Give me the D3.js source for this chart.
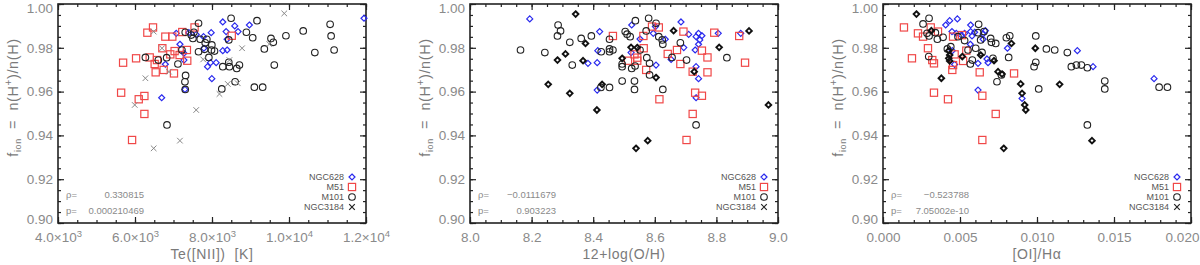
<!DOCTYPE html>
<html><head><meta charset="utf-8">
<script src="https://cdn.jsdelivr.net/npm/d3@7"></script>
<style>
body{margin:0;background:#fff}
text{font-family:"Liberation Sans",Arial,sans-serif}
</style>
</head><body><div id="chart"></div><script>
// panel 1: Te([NII]) vs f_ion
const teN628 = [[7072,0.9866],[7167,0.9816],[7271,0.9775],[6788,0.9725],[6693,0.9572],[7297,0.9610],[7271,0.9744],[7590,0.9861],[7780,0.9851],[7789,0.9798],[7884,0.9714],[7979,0.9869],[7961,0.9732],[8108,0.9732],[7996,0.9659],[8280,0.9918],[8367,0.9874],[8393,0.9790],[8280,0.9787],[8591,0.9900],[8677,0.9874],[8971,0.9904],[11948,0.9935],[7400,0.9869],[8393,0.9839]];
const teM51 = [[6321,0.9869],[6468,0.9893],[6788,0.9851],[6969,0.9851],[6710,0.9798],[5691,0.9732],[6028,0.9752],[6382,0.9756],[6572,0.9744],[6511,0.9726],[6537,0.9688],[6744,0.9699],[7012,0.9683],[6917,0.9770],[7029,0.9785],[7159,0.9767],[7348,0.9790],[7357,0.9741],[7547,0.9893],[8513,0.9855],[5640,0.9595],[6097,0.9565],[6244,0.9580],[6244,0.9498],[5924,0.9379],[7228,0.9872]];
const teM101 = [[6270,0.9756],[6606,0.9744],[6822,0.9755],[7115,0.9726],[7219,0.9790],[7305,0.9871],[7314,0.9674],[7297,0.9645],[7305,0.9610],[7461,0.9858],[7504,0.9843],[7650,0.9912],[7650,0.9782],[7694,0.9839],[7823,0.9823],[7866,0.9839],[7996,0.9813],[7987,0.9790],[8065,0.9785],[7918,0.9756],[8280,0.9714],[8453,0.9714],[8436,0.9836],[8496,0.9935],[8436,0.9734],[8643,0.9706],[8712,0.9721],[8254,0.9612],[8600,0.9645],[8893,0.9871],[9057,0.9846],[9169,0.9924],[9100,0.9620],[9316,0.9620],[9359,0.9795],[9532,0.9843],[9592,0.9825],[9618,0.9721],[9920,0.9855],[10369,0.9877],[10671,0.9778],[11068,0.9907],[11094,0.9854],[11172,0.9790],[6831,0.9448],[7530,0.9871],[7806,0.9793]];
const teN3184 = [[6485,0.9874],[6701,0.9798],[6270,0.9661],[5993,0.9539],[6485,0.9341],[6882,0.9691],[7590,0.9516],[7167,0.9376],[7771,0.9747],[8194,0.9589],[8410,0.9635],[8669,0.9638],[8781,0.9798],[9877,0.9957],[8453,0.9744],[9489,0.9817]];

// panel 2: 12+log(O/H) vs f_ion
const ohN628 = [[8.194,0.9932],[8.421,0.9874],[8.415,0.9787],[8.413,0.9732],[8.383,0.9729],[8.413,0.9607],[8.525,0.9904],[8.523,0.9778],[8.552,0.9840],[8.604,0.9721],[8.595,0.9866],[8.634,0.9839],[8.653,0.9747],[8.685,0.9918],[8.694,0.9801],[8.710,0.9861],[8.734,0.9851],[8.731,0.9790],[8.734,0.9714],[8.742,0.9866],[8.742,0.9816],[8.746,0.9836],[8.753,0.9855],[8.742,0.9659],[8.734,0.9572],[8.806,0.9866],[8.879,0.9866],[8.602,0.9897]];
const ohM51 = [[8.464,0.9854],[8.513,0.9741],[8.534,0.9770],[8.543,0.9755],[8.543,0.9741],[8.564,0.9798],[8.572,0.9699],[8.563,0.9854],[8.591,0.9897],[8.613,0.9893],[8.615,0.9565],[8.642,0.9772],[8.672,0.9790],[8.683,0.9726],[8.693,0.9874],[8.723,0.9691],[8.731,0.9595],[8.723,0.9498],[8.703,0.9379],[8.753,0.9787],[8.753,0.9581],[8.771,0.9756],[8.771,0.9688],[8.793,0.9869],[8.874,0.9854],[8.893,0.9732]];
const ohM101 = [[8.164,0.9790],[8.243,0.9778],[8.286,0.9904],[8.284,0.9854],[8.294,0.9877],[8.324,0.9825],[8.332,0.9721],[8.361,0.9843],[8.394,0.9854],[8.453,0.9839],[8.453,0.9795],[8.453,0.9782],[8.464,0.9790],[8.494,0.9726],[8.494,0.9714],[8.494,0.9648],[8.504,0.9874],[8.510,0.9862],[8.520,0.9851],[8.537,0.9924],[8.525,0.9706],[8.536,0.9717],[8.534,0.9648],[8.534,0.9610],[8.453,0.9619],[8.572,0.9877],[8.574,0.9755],[8.583,0.9729],[8.583,0.9676],[8.580,0.9935],[8.604,0.9912],[8.626,0.9610],[8.613,0.9851],[8.624,0.9836],[8.626,0.9816],[8.683,0.9823],[8.703,0.9744],[8.734,0.9448],[8.834,0.9755],[8.552,0.9790],[8.425,0.9619],[8.426,0.9782],[8.656,0.9756]];
const ohN3184 = [[8.343,0.9954],[8.375,0.9820],[8.367,0.9741],[8.310,0.9772],[8.284,0.9744],[8.254,0.9633],[8.324,0.9592],[8.412,0.9516],[8.429,0.9633],[8.494,0.9752],[8.523,0.9802],[8.543,0.9801],[8.539,0.9341],[8.577,0.9376],[8.604,0.9664],[8.661,0.9878],[8.728,0.9691],[8.809,0.9802],[8.906,0.9877],[8.969,0.9539]];

// panel 3: [OI]/Halpha vs f_ion
const oiN628 = [[0.00407,0.9904],[0.00433,0.9924],[0.00483,0.9932],[0.00448,0.9874],[0.00476,0.9866],[0.00509,0.9858],[0.00530,0.9866],[0.00569,0.9904],[0.00569,0.9874],[0.00578,0.9854],[0.00567,0.9816],[0.00595,0.9871],[0.00650,0.9863],[0.00650,0.9839],[0.00665,0.9878],[0.00617,0.9729],[0.00450,0.9787],[0.00465,0.9724],[0.00617,0.9607],[0.00682,0.9732],[0.00808,0.9798],[0.00903,0.9569],[0.01262,0.9787],[0.01364,0.9714],[0.01760,0.9659],[0.00675,0.9749]];
const oiM51 = [[0.00136,0.9893],[0.00227,0.9866],[0.00260,0.9851],[0.00310,0.9893],[0.00292,0.9798],[0.00188,0.9752],[0.00320,0.9744],[0.00331,0.9729],[0.00357,0.9874],[0.00455,0.9851],[0.00465,0.9770],[0.00455,0.9721],[0.00450,0.9699],[0.00520,0.9740],[0.00513,0.9858],[0.00331,0.9595],[0.00422,0.9565],[0.00628,0.9688],[0.00645,0.9581],[0.00732,0.9498],[0.00645,0.9379],[0.00851,0.9683],[0.00541,0.9787]];
const oiM101 = [[0.00260,0.9909],[0.00299,0.9935],[0.00286,0.9866],[0.00299,0.9854],[0.00340,0.9869],[0.00353,0.9839],[0.00390,0.9848],[0.00297,0.9760],[0.00418,0.9795],[0.00487,0.9851],[0.00530,0.9833],[0.00552,0.9790],[0.00567,0.9726],[0.00580,0.9744],[0.00602,0.9798],[0.00617,0.9869],[0.00621,0.9907],[0.00634,0.9836],[0.00643,0.9779],[0.00656,0.9874],[0.00699,0.9843],[0.00704,0.9825],[0.00714,0.9752],[0.00732,0.9820],[0.00740,0.9645],[0.00769,0.9676],[0.00801,0.9846],[0.00823,0.9855],[0.00816,0.9756],[0.00992,0.9854],[0.00992,0.9734],[0.00981,0.9714],[0.01011,0.9612],[0.01061,0.9795],[0.01115,0.9790],[0.01197,0.9778],[0.01223,0.9714],[0.01256,0.9721],[0.01288,0.9721],[0.01327,0.9709],[0.01440,0.9648],[0.01440,0.9612],[0.01327,0.9448],[0.01793,0.9620],[0.01847,0.9620],[0.00440,0.9805]];
const oiN3184 = [[0.00217,0.9954],[0.00314,0.9878],[0.00379,0.9661],[0.00427,0.9787],[0.00433,0.9767],[0.00427,0.9752],[0.00433,0.9740],[0.00515,0.9760],[0.00634,0.9767],[0.00721,0.9741],[0.00747,0.9691],[0.00773,0.9680],[0.00834,0.9820],[0.00894,0.9635],[0.00903,0.9592],[0.00920,0.9539],[0.00927,0.9516],[0.00989,0.9798],[0.01147,0.9633],[0.00784,0.9341],[0.01357,0.9376]];

const legendNames = ["NGC628", "M51", "M101", "NGC3184"];
const rhoVals = ["0.330815", "\u22120.0111679", "\u22120.523788"];
const pVals = ["0.000210469", "0.903223", "7.05002e-10"];
const xTitles = ["Te([NII])  [K]", "12+log(O/H)", "[OI]/H\u03b1"];
const yTicks = [0.90, 0.92, 0.94, 0.96, 0.98, 1.00];

const W = 308, H = 219, topY = 4;
const lefts = [58, 470, 883];

const svg = d3.select("#chart").append("svg")
  .attr("width", 1200).attr("height", 265);

const panels = [
  { domain: [4000, 12000], major: d3.range(4000, 12001, 2000), minor: d3.range(4000, 12001, 500),
    fmt: "sci", sets: [teN628, teM51, teM101, teN3184], cross: true },
  { domain: [8.0, 9.0], major: d3.range(0, 6).map(i => 8 + i * 0.2), minor: d3.range(0, 21).map(i => 8 + i * 0.05),
    fmt: d3.format(".1f"), sets: [ohN628, ohM51, ohM101, ohN3184], cross: false },
  { domain: [0, 0.02], major: d3.range(0, 5).map(i => i * 0.005), minor: d3.range(0, 21).map(i => i * 0.001),
    fmt: d3.format(".3f"), sets: [oiN628, oiM51, oiM101, oiN3184], cross: false }
];

function drawSym(g, kind, px, py) {
  if (kind === 0) {
    const r = 3;
    g.append("path").attr("d", `M${px},${py - r}L${px + r},${py}L${px},${py + r}L${px - r},${py}Z`)
      .attr("fill", "none").attr("stroke", "#2a2aee").attr("stroke-width", 1.2);
  } else if (kind === 1) {
    g.append("rect").attr("x", px - 3.6).attr("y", py - 3.6).attr("width", 7.2).attr("height", 7.2)
      .attr("fill", "none").attr("stroke", "#f04848").attr("stroke-width", 1.2);
  } else if (kind === 2) {
    g.append("circle").attr("cx", px).attr("cy", py).attr("r", 3.3)
      .attr("fill", "none").attr("stroke", "#222").attr("stroke-width", 1.1);
  } else if (kind === 3) {
    const r = 2.8;
    g.append("path").attr("d", `M${px - r},${py - r}L${px + r},${py + r}M${px - r},${py + r}L${px + r},${py - r}`)
      .attr("stroke", "#888").attr("stroke-width", 1);
  } else if (kind === 4) {
    const r = 2.8;
    g.append("path").attr("d", `M${px},${py - r}L${px + r},${py}L${px},${py + r}L${px - r},${py}Z`)
      .attr("fill", "none").attr("stroke", "#111").attr("stroke-width", 1.9);
  } else if (kind === 5) {
    const r = 2.8;
    g.append("path").attr("d", `M${px - r},${py - r}L${px + r},${py + r}M${px - r},${py + r}L${px + r},${py - r}`)
      .attr("stroke", "#222").attr("stroke-width", 1.2);
  }
}

panels.forEach((p, i) => {
  const g = svg.append("g").attr("transform", `translate(${lefts[i]},${topY})`);
  const x = d3.scaleLinear().domain(p.domain).range([0, W]);
  const y = d3.scaleLinear().domain([0.90, 1.00]).range([H, 0]);

  const tickStyle = a => {
    a.select(".domain").remove();
    a.selectAll("line").attr("stroke", "#222").attr("stroke-width", 1.2);
    a.selectAll("text").attr("fill", "#8a8a8a").attr("font-size", 13.5);
  };

  // minor ticks
  g.append("g").attr("transform", `translate(0,${H})`)
    .call(d3.axisBottom(x).tickValues(p.minor).tickSize(-3).tickFormat("")).call(tickStyle);
  g.append("g").call(d3.axisTop(x).tickValues(p.minor).tickSize(-3).tickFormat("")).call(tickStyle);
  g.append("g").call(d3.axisLeft(y).tickValues(d3.range(0, 21).map(k => 0.9 + k * 0.005)).tickSize(-3).tickFormat("")).call(tickStyle);
  g.append("g").attr("transform", `translate(${W},0)`)
    .call(d3.axisRight(y).tickValues(d3.range(0, 21).map(k => 0.9 + k * 0.005)).tickSize(-3).tickFormat("")).call(tickStyle);

  // major ticks
  const xb = g.append("g").attr("transform", `translate(0,${H})`)
    .call(d3.axisBottom(x).tickValues(p.major).tickSize(-6).tickPadding(9)
      .tickFormat(p.fmt === "sci" ? "" : p.fmt)).call(tickStyle);
  if (p.fmt === "sci") {
    xb.selectAll(".tick text").each(function (d) {
      const e = Math.floor(Math.log10(d));
      const m = (d / Math.pow(10, e)).toFixed(1);
      const t = d3.select(this).text(null);
      t.append("tspan").text(m + "\u00d710");
      t.append("tspan").attr("dy", "-0.45em").attr("font-size", 9.5).text(e);
    });
  }
  if (i === 2) {
    // last label pulled inside the page edge, as in the original
    xb.selectAll(".tick text").filter(d => d > 0.019).attr("dx", -9);
  }
  g.append("g").call(d3.axisTop(x).tickValues(p.major).tickSize(-6).tickFormat("")).call(tickStyle);
  const yl = g.append("g").call(d3.axisLeft(y).tickValues(yTicks).tickSize(-6).tickPadding(5)
    .tickFormat(d3.format(".2f"))).call(tickStyle);
  yl.selectAll(".tick text").attr("dy", d => d > 0.99 ? "0.62em" : d < 0.91 ? "0.05em" : "0.32em");
  g.append("g").attr("transform", `translate(${W},0)`)
    .call(d3.axisRight(y).tickValues(yTicks).tickSize(-6).tickFormat("")).call(tickStyle);

  // frame
  g.append("rect").attr("width", W).attr("height", H)
    .attr("fill", "none").attr("stroke", "#222").attr("stroke-width", 1.6);

  // points
  const pts = g.append("g");
  p.sets.forEach((set, k) => {
    const kind = k === 3 ? (p.cross ? 3 : 4) : k;
    set.forEach(d => drawSym(pts, kind, x(d[0]), y(d[1])));
  });

  // axis titles
  g.append("text").attr("x", W / 2).attr("y", H + 36).attr("text-anchor", "middle")
    .attr("fill", "#7a7a7a").attr("font-size", 14).attr("letter-spacing", 0.6)
    .attr("xml:space", "preserve").text(xTitles[i]);

  const yt = g.append("text").attr("transform", `translate(-40,${H / 2 - 16}) rotate(-90)`)
    .attr("text-anchor", "middle").attr("fill", "#7a7a7a").attr("font-size", 14.5)
    .attr("letter-spacing", 0.6).attr("xml:space", "preserve");
  yt.append("tspan").text("f");
  yt.append("tspan").attr("dy", 3).attr("font-size", 9).text("ion");
  yt.append("tspan").attr("dy", -3).text("  =  n(H");
  yt.append("tspan").attr("dy", -6).attr("font-size", 10).text("+");
  yt.append("tspan").attr("dy", 6).text(")/n(H)");

  // correlation numbers
  g.append("text").attr("x", 8).attr("y", H - 25).attr("fill", "#8a8a8a").attr("font-size", 9.5).text("\u03c1=");
  g.append("text").attr("x", 86).attr("y", H - 25).attr("text-anchor", "end").attr("fill", "#8a8a8a").attr("font-size", 9.5).text(rhoVals[i]);
  g.append("text").attr("x", 8).attr("y", H - 9).attr("fill", "#8a8a8a").attr("font-size", 9.5).text("p=");
  g.append("text").attr("x", 86).attr("y", H - 9).attr("text-anchor", "end").attr("fill", "#8a8a8a").attr("font-size", 9.5).text(pVals[i]);

  // legend
  legendNames.forEach((name, k) => {
    const ly = H - 46 + k * 10;
    g.append("text").attr("x", W - 22).attr("y", ly + 3.3).attr("text-anchor", "end")
      .attr("fill", "#555").attr("font-size", 9).text(name);
    drawSym(g, k === 3 ? 5 : k, W - 14, ly);
  });
});
</script></body></html>
